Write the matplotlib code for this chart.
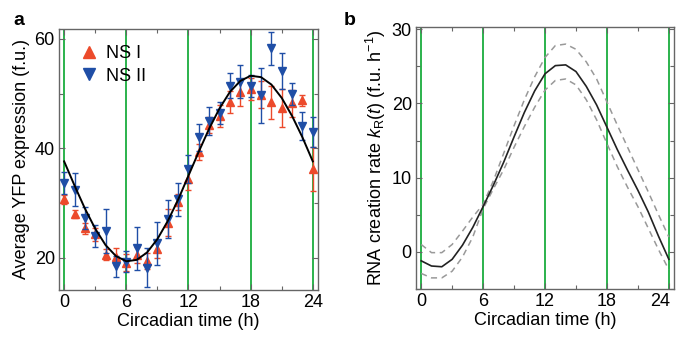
import matplotlib
matplotlib.use("Agg")
import matplotlib.pyplot as plt
from matplotlib.ticker import MultipleLocator
from matplotlib.lines import Line2D
import matplotlib.transforms as mtransforms

plt.rcParams['font.family'] = ['Liberation Sans', 'DejaVu Sans']
plt.rcParams['font.size'] = 13
plt.rcParams['mathtext.fontset'] = 'custom'
plt.rcParams['mathtext.rm'] = 'Liberation Sans'
plt.rcParams['mathtext.it'] = 'Liberation Sans:italic'

# panneau a : donnees (heures circadiennes)
heures = list(range(25))
ns1 = [30.7, 28.0, 25.4, 24.3, 20.5, 20.2, 19.1, 20.5, 19.4, 21.5, 26.4, 30.2, 34.4,
       39.3, 44.2, 45.9, 48.5, 50.2, 50.9, 49.8, 48.4, 47.4, 48.2, 48.8, 36.2]
ns1_err = [0.8, 0.7, 1.0, 1.2, 1.0, 1.5, 1.5, 1.5, 1.5, 1.5, 2.5, 1.5, 2.0,
           1.5, 1.5, 2.0, 2.0, 2.5, 2.0, 2.5, 3.0, 3.5, 2.5, 1.0, 4.0]
ns2 = [33.6, 32.4, 27.2, 24.0, 24.9, 18.4, 19.3, 21.7, 18.2, 22.6, 27.1, 30.7, 36.2,
       42.0, 45.0, 46.5, 51.4, 52.2, 51.3, 49.7, 58.3, 54.2, 49.9, 44.1, 43.0]
ns2_err = [2.0, 3.0, 2.0, 2.0, 4.0, 2.0, 2.0, 4.0, 3.5, 4.0, 3.5, 3.0, 2.5,
           2.5, 2.5, 2.0, 2.3, 3.0, 2.0, 5.0, 3.0, 3.3, 2.0, 2.5, 2.8]
ajustement = [37.6, 33.2, 29.0, 25.3, 22.3, 20.3, 19.35, 19.6, 20.95, 23.4, 26.7, 30.6, 35.0,
              39.4, 43.6, 47.3, 50.3, 52.3, 53.25, 53.0, 51.65, 49.2, 45.9, 42.0, 37.6]

# panneau b : taux de creation d'ARN
taux = [-1.2, -1.9, -2.0, -1.0, 0.9, 3.3, 6.1, 9.0, 12.1, 15.5, 18.8, 21.7, 24.0,
        25.1, 25.2, 24.3, 22.3, 19.8, 16.8, 13.8, 11.0, 8.3, 5.4, 2.1, -1.0]
taux_haut = [1.0, -0.1, -0.1, 1.0, 2.8, 4.7, 6.4, 9.6, 13.3, 17.0, 20.5, 23.6, 26.2,
             27.8, 28.0, 27.3, 25.6, 23.3, 20.2, 17.1, 14.1, 11.1, 8.1, 5.0, 2.0]
taux_bas = [-2.9, -3.5, -3.5, -2.6, -0.7, 2.0, 5.8, 8.5, 11.1, 14.1, 16.9, 19.5, 21.8,
            23.1, 23.3, 22.5, 20.5, 17.8, 14.6, 11.5, 8.7, 6.1, 3.2, 0.3, -2.4]

lignes_vertes = [0, 6, 12, 18, 24]

rouge = '#ec4a2b'
bleu = '#1f4ea6'
vert = '#2bb24c'
gris_cadre = '#666666'

fig = plt.figure(figsize=(6.77, 3.37), dpi=100)
ax1 = fig.add_axes([0.0871, 0.1395, 0.3826, 0.7745])
ax2 = fig.add_axes([0.6145, 0.1424, 0.3811, 0.7774])

for ax in (ax1, ax2):
    for x in lignes_vertes:
        ax.axvline(x, color=vert, lw=1.4, zorder=1)
    ax.set_xlim(-0.5, 24.5)
    ax.set_xticks([0, 6, 12, 18, 24])
    ax.xaxis.set_minor_locator(MultipleLocator(3))
    ax.tick_params(which='both', direction='in', top=True, right=True,
                   color=gris_cadre, width=0.8)
    ax.tick_params(which='major', length=4, pad=3)
    ax.tick_params(which='minor', length=3)
    for s in ax.spines.values():
        s.set_color(gris_cadre)
        s.set_linewidth(1.0)
    ax.set_xlabel("Circadian time (h)", labelpad=1)

# a
ax1.errorbar(heures, ns1, yerr=ns1_err, fmt='^', color=rouge, ms=5.5, capsize=2.5,
             elinewidth=1.0, capthick=1.0, zorder=3)
ax1.errorbar(heures, ns2, yerr=ns2_err, fmt='v', color=bleu, ms=5.5, capsize=2.5,
             elinewidth=1.0, capthick=1.0, zorder=4)
ax1.plot(heures, ajustement, color='black', lw=1.4, zorder=5)
ax1.set_ylim(14.1, 61.8)
ax1.set_yticks([20, 40, 60])
ax1.yaxis.set_minor_locator(MultipleLocator(10))
ax1.set_ylabel("Average YFP expression (f.u.)", labelpad=3)
poignees = [Line2D([], [], ls='none', marker='^', color=rouge, ms=9),
            Line2D([], [], ls='none', marker='v', color=bleu, ms=9)]
ax1.legend(poignees, ["NS I", "NS II"], loc='upper left', bbox_to_anchor=(0.0, 1.0),
           frameon=False, handletextpad=0.2, labelspacing=0.3, handlelength=1.5)

# b
ax2.plot(heures, taux, color='#222222', lw=1.2, zorder=3)
ax2.plot(heures, taux_haut, color='#999999', lw=1.1, ls=(0, (4, 3)), zorder=2)
ax2.plot(heures, taux_bas, color='#999999', lw=1.1, ls=(0, (4, 3)), zorder=2)
ax2.set_ylim(-5, 30.3)
ax2.set_yticks([0, 10, 20, 30])
ax2.yaxis.set_minor_locator(MultipleLocator(5))
ax2.set_ylabel(r"RNA creation rate $k_{\mathrm{R}}(t)$ (f.u. h$^{-1}$)", labelpad=3)

# le dernier libelle "24" est decale a gauche comme sur l'original
fig.canvas.draw()
dernier = ax2.get_xticklabels()[-1]
dernier.set_transform(dernier.get_transform() +
                      mtransforms.ScaledTranslation(-6 / 72, 0, fig.dpi_scale_trans))

fig.text(0.02, 0.925, "a", fontsize=14, fontweight='bold')
fig.text(0.508, 0.925, "b", fontsize=14, fontweight='bold')

fig.savefig("out.png", dpi=100)
